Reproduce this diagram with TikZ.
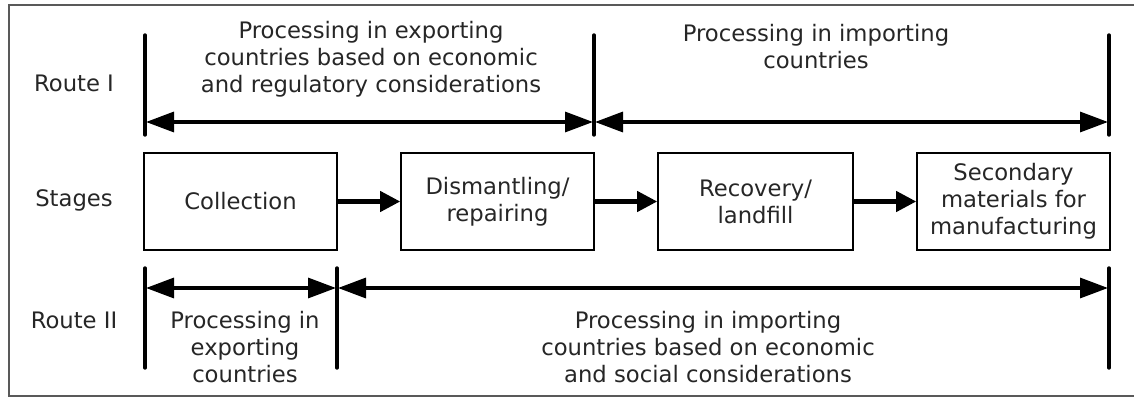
\documentclass[tikz,border=0pt]{standalone}
\usepackage{fontspec}
\setmainfont{DejaVu Sans}
\usetikzlibrary{arrows.meta}
\begin{document}
\begin{tikzpicture}[x=1pt,y=-1pt,
  txt/.style={font=\fontsize{22.7}{27}\selectfont, text=black!85, align=center, inner sep=0pt},
  stagebox/.style={txt, draw, line width=1.6pt, minimum width=193pt, minimum height=97pt},
  bar/.style={line width=3.4pt, line cap=round},
  span/.style={line width=3.2pt, {Triangle[length=28pt,width=20pt]}-{Triangle[length=28pt,width=20pt]}, shorten <=1pt, shorten >=1pt},
  flow/.style={line width=4.2pt, -{Triangle[length=20pt,width=20pt]}}]
\useasboundingbox (0,0) rectangle (1134,398);
\draw[gray!70!black, line width=1.6pt] (9,5) rectangle (1145,396);
% row labels
\node[txt] (r1) at (74,83) {Route I};
\node[txt] (st) at (74,200) {Stages};
\node[txt] (r2) at (74,320) {Route II};
% stage boxes
\node[stagebox] (b1) at (240.5,201.5) {Collection};
\node[stagebox] (b2) at (497.5,201.5) {Dismantling/\\repairing};
\node[stagebox, minimum width=195pt] (b3) at (755.5,201.5) {Recovery/\\landfill};
\node[stagebox] (b4) at (1013.5,201.5) {Secondary\\materials for\\manufacturing};
\draw[flow] (b1.east) -- (b2.west);
\draw[flow] (b2.east) -- (b3.west);
\draw[flow] (b3.east) -- (b4.west);
% Route I bars
\coordinate (a1t) at (145,35); \coordinate (a1b) at (145,135);
\coordinate (a2t) at (594,35); \coordinate (a2b) at (594,135);
\coordinate (a3t) at (1109,35); \coordinate (a3b) at (1109,135);
\draw[bar] (a1t) -- (a1b);
\draw[bar] (a2t) -- (a2b);
\draw[bar] (a3t) -- (a3b);
\coordinate (p1) at (145,122); \coordinate (p2) at (594,122); \coordinate (p3) at (1109,122);
\draw[span] (p1) -- (p2);
\draw[span] (p2) -- (p3);
\node[txt] (l1) at (371,59) {Processing in exporting\\countries based on economic\\and regulatory considerations};
\node[txt] (l2) at (816,46.5) {Processing in importing\\countries};
% Route II bars
\coordinate (c1t) at (145,268); \coordinate (c1b) at (145,368);
\coordinate (c2t) at (337,268); \coordinate (c2b) at (337,368);
\coordinate (c3t) at (1109,268); \coordinate (c3b) at (1109,368);
\draw[bar] (c1t) -- (c1b);
\draw[bar] (c2t) -- (c2b);
\draw[bar] (c3t) -- (c3b);
\coordinate (q1) at (145,288); \coordinate (q2) at (337,288); \coordinate (q3) at (1109,288);
\draw[span] (q1) -- (q2);
\draw[span] (q2) -- (q3);
\node[txt] (m1) at (245,347) {Processing in\\exporting\\countries};
\node[txt] (m2) at (708,347) {Processing in importing\\countries based on economic\\and social considerations};
\end{tikzpicture}
\end{document}
